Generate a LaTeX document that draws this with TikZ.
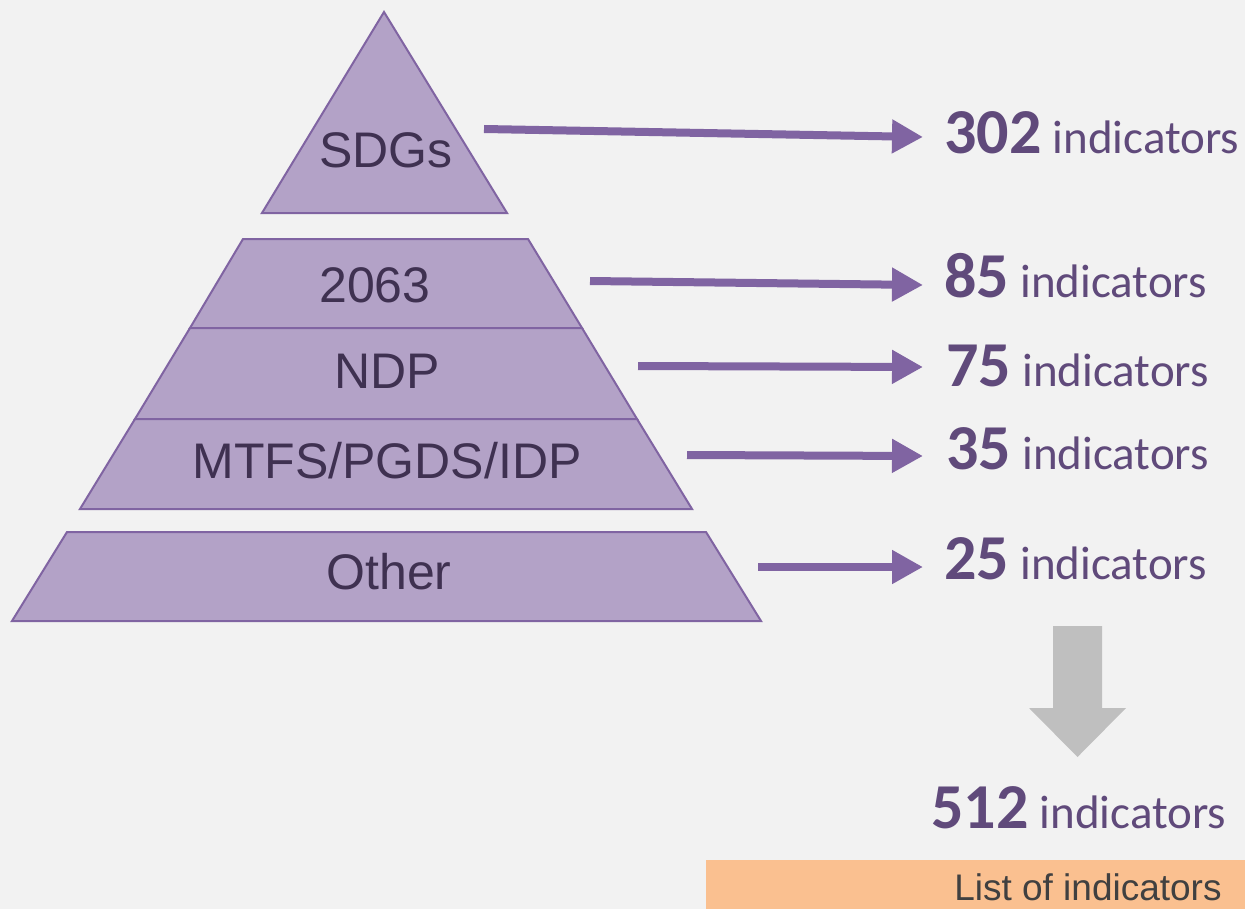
\documentclass[tikz,border=0pt]{standalone}
\usepackage{fontspec}
\setmainfont{Liberation Sans}
\newfontfamily\calfont{Carlito}
\usetikzlibrary{arrows.meta}
\definecolor{bgc}{HTML}{F2F2F2}
\definecolor{pyrfill}{HTML}{B3A2C7}
\definecolor{pyrline}{HTML}{8064A2}
\definecolor{numc}{HTML}{604A7B}
\definecolor{labc}{HTML}{3F3151}
\definecolor{grayarr}{HTML}{BFBFBF}
\definecolor{orangec}{HTML}{FAC090}
\definecolor{listc}{HTML}{404040}
\tikzset{
  layer/.style={fill=pyrfill, draw=pyrline, line width=1pt, line join=miter},
  lab/.style={text=labc, font=\fontsize{25}{29}\selectfont, inner sep=0pt},
  cnt/.style={anchor=base west, text=numc, inner sep=0pt},
  parr/.style={draw=pyrline, line width=4pt, -{Triangle[length=15.5pt,width=16pt]}},
}
\newcommand{\cnttext}[1]{{\calfont\fontsize{32}{38}\selectfont\bfseries #1}\hspace{5.5pt}{\calfont\fontsize{23.5}{28}\selectfont indicators}}
\begin{document}
\begin{tikzpicture}[x=0.5pt,y=-0.5pt]
\useasboundingbox (0,0) rectangle (1245,909);
\fill[bgc] (0,0) rectangle (1245,909);
% pyramid
\draw[layer] (384,12) -- (507,213) -- (262,213) -- cycle;
\draw[layer] (243,239) -- (528,239) -- (582,328) -- (190,328) -- cycle;
\draw[layer] (190,328) -- (582,328) -- (637,419) -- (135,419) -- cycle;
\draw[layer] (135,419) -- (637,419) -- (692,509) -- (80,509) -- cycle;
\draw[layer] (67,532) -- (706,532) -- (761,621) -- (12,621) -- cycle;
\node[lab] (sdg) at (386,150) {SDGs};
\node[lab] (a2063) at (375,285) {2063};
\node[lab] (ndp) at (387,371) {NDP};
\node[lab] (mtfs) at (387,461) {MTFS/PGDS/IDP};
\node[lab] (oth) at (389,572) {Other};
% counts
\node[cnt] (c1) at (944,154) {\cnttext{302}};
\node[cnt] (c2) at (944,297) {\cnttext{85}};
\node[cnt] (c3) at (946,386) {\cnttext{75}};
\node[cnt] (c4) at (946,469) {\cnttext{35}};
\node[cnt] (c5) at (944,579) {\cnttext{25}};
% arrow endpoints
\coordinate (s1) at (484,129); \coordinate (e1) at (923,137);
\coordinate (s2) at (590,281); \coordinate (e2) at (923,285);
\coordinate (s3) at (638,366); \coordinate (e3) at (923,367);
\coordinate (s4) at (687,455); \coordinate (e4) at (923,456);
\coordinate (s5) at (758,567); \coordinate (e5) at (923,567);
\draw[parr] (s1) -- (e1);
\draw[parr] (s2) -- (e2);
\draw[parr] (s3) -- (e3);
\draw[parr] (s4) -- (e4);
\draw[parr] (s5) -- (e5);
% gray arrow
\fill[grayarr] (1053,626) -- (1102,626) -- (1102,708) -- (1126,708) -- (1077.5,757) -- (1029,708) -- (1053,708) -- cycle;
\node[cnt] (total) at (931,828) {\cnttext{512}};
% orange bar
\fill[orangec] (706,860) rectangle (1245,909);
\node[anchor=base east, text=listc, font=\fontsize{18.5}{22}\selectfont, inner sep=0pt] (list) at (1222,900) {List of indicators};
\end{tikzpicture}
\end{document}
